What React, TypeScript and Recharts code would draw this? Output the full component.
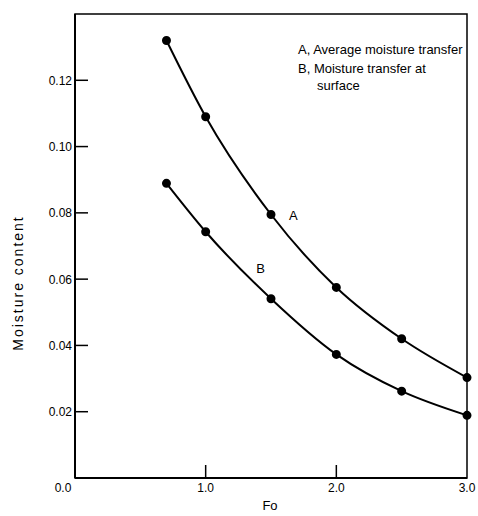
import React from 'react';
import { LineChart, Line, XAxis, YAxis, ReferenceArea, ReferenceDot, Label } from 'recharts';

// Fo values and moisture content
const fo = [0.7, 1.0, 1.5, 2.0, 2.5, 3.0];
const averageTransfer = [0.132, 0.109, 0.0795, 0.0575, 0.042, 0.0303];
const surfaceTransfer = [0.0889, 0.0743, 0.0541, 0.0373, 0.0262, 0.0189];

const xTicks = [0, 1, 2, 3];
const xTickLabels = ['0.0', '1.0', '2.0', '3.0'];
const yTicks = [0.02, 0.04, 0.06, 0.08, 0.1, 0.12];
const yTickLabels = ['0.02', '0.04', '0.06', '0.08', '0.10', '0.12'];

const data = fo.map((x, i) => ({ fo: x, a: averageTransfer[i], b: surfaceTransfer[i] }));

const FONT = '"Liberation Sans", Arial, sans-serif';
const AXIS_LEFT = 75;
const AXIS_BOTTOM = 478;
const TICK_LEN = 13;

const YTick = (props: any) => {
  const { y, payload } = props;
  const i = yTicks.indexOf(payload.value);
  return (
    <g>
      <line x1={AXIS_LEFT} x2={AXIS_LEFT + TICK_LEN} y1={y} y2={y} stroke="#000" strokeWidth={1.5} />
      <text x={72} y={y + 4.5} textAnchor="end" fontSize={12} fontFamily={FONT} fill="#000">
        {i >= 0 ? yTickLabels[i] : ''}
      </text>
    </g>
  );
};

const XTick = (props: any) => {
  const { x, payload } = props;
  const i = xTicks.indexOf(payload.value);
  const inner = payload.value > 0 && payload.value < 3;
  return (
    <g>
      {inner && (
        <line x1={x} x2={x} y1={AXIS_BOTTOM} y2={AXIS_BOTTOM - TICK_LEN} stroke="#000" strokeWidth={1.5} />
      )}
      <text
        x={payload.value === 0 ? x - 12 : x}
        y={492}
        textAnchor="middle"
        fontSize={12}
        fontFamily={FONT}
        fill="#000"
      >
        {i >= 0 ? xTickLabels[i] : ''}
      </text>
    </g>
  );
};

const App: React.FC = () => {
  return (
    <div style={{ position: 'absolute', left: 0, top: 0, background: '#fff' }}>
      <LineChart width={478} height={516} data={data} margin={{ top: 14, right: 11, bottom: 0, left: 0 }}>
        <XAxis
          dataKey="fo"
          type="number"
          domain={[0, 3]}
          ticks={xTicks}
          tick={<XTick />}
          tickLine={false}
          axisLine={{ stroke: '#000', strokeWidth: 2 }}
          height={38}
        >
          <Label
            content={() => (
              <text x={270} y={510} textAnchor="middle" fontSize={13} fontFamily={FONT} fill="#000">
                Fo
              </text>
            )}
          />
        </XAxis>
        <YAxis
          type="number"
          domain={[0, 0.14]}
          ticks={yTicks}
          tick={<YTick />}
          tickLine={false}
          axisLine={{ stroke: '#000', strokeWidth: 2 }}
          width={75}
        >
          <Label
            content={() => (
              <text
                x={18}
                y={283}
                transform="rotate(-90 18 283)"
                textAnchor="middle"
                dominantBaseline="central"
                fontSize={14}
                letterSpacing={2}
                fontFamily={FONT}
                fill="#000"
              >
                Moisture content
              </text>
            )}
          />
        </YAxis>
        <ReferenceArea x1={0} x2={3} y1={0} y2={0.14} fill="none" stroke="#000" strokeWidth={1.5} ifOverflow="visible" />
        <Line
          dataKey="a"
          type="monotone"
          stroke="#000"
          strokeWidth={2}
          dot={{ r: 3.5, fill: '#000', stroke: '#000' }}
          isAnimationActive={false}
        />
        <Line
          dataKey="b"
          type="monotone"
          stroke="#000"
          strokeWidth={2}
          dot={{ r: 3.5, fill: '#000', stroke: '#000' }}
          isAnimationActive={false}
        />
        <ReferenceDot x={1.67} y={0.0791} r={0} fill="none" stroke="none" ifOverflow="visible">
          <Label value="A" position="center" fontSize={13} fontFamily={FONT} fill="#000" />
        </ReferenceDot>
        <ReferenceDot x={1.42} y={0.0633} r={0} fill="none" stroke="none" ifOverflow="visible">
          <Label value="B" position="center" fontSize={13} fontFamily={FONT} fill="#000" />
        </ReferenceDot>
        <text x={298} y={54} fontSize={13} fontFamily={FONT} fill="#000">
          A, Average moisture transfer
        </text>
        <text x={298} y={73} fontSize={13} fontFamily={FONT} fill="#000">
          B, Moisture transfer at
        </text>
        <text x={317} y={90} fontSize={13} fontFamily={FONT} fill="#000">
          surface
        </text>
      </LineChart>
    </div>
  );
};

export default App;
